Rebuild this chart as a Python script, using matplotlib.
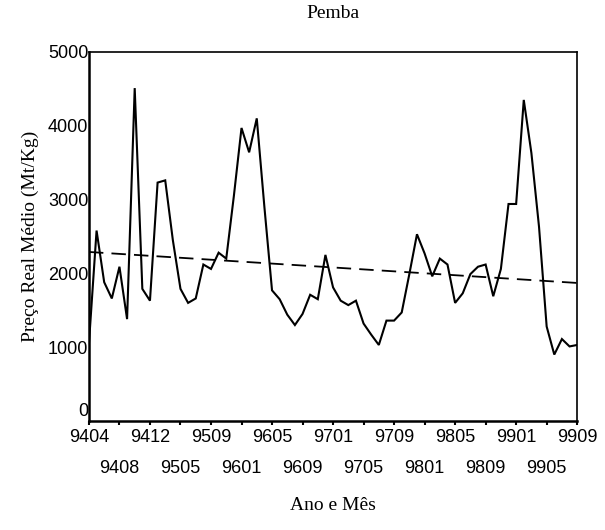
import matplotlib
matplotlib.use("Agg")
import matplotlib.pyplot as plt
import matplotlib.transforms as mtrans

# monthly real price, Pemba (Apr 1994 - Sep 1999)
preco = [1050, 2580, 1880, 1660, 2090, 1380, 4510, 1790, 1630, 3230,
         3260, 2450, 1790, 1600, 1660, 2120, 2060, 2280, 2200, 3050,
         3970, 3640, 4100, 2900, 1770, 1650, 1440, 1300, 1450, 1710,
         1650, 2250, 1810, 1630, 1570, 1630, 1320, 1170, 1030, 1360,
         1360, 1470, 1990, 2530, 2270, 1960, 2200, 2120, 1600, 1730,
         1990, 2090, 2120, 1690, 2060, 2940, 2940, 4350, 3630, 2630,
         1280, 900, 1110, 1010, 1030]
# trend line end values
tendencia = [2290, 1870]
tick_labels = ["9404", "9408", "9412", "9505", "9509", "9601", "9605", "9609",
               "9701", "9705", "9709", "9801", "9805", "9809", "9901", "9905", "9909"]

serifFont = "Liberation Serif"
sansFont = "Liberation Sans"

fig = plt.figure(figsize=(6.05, 5.3), dpi=100)
ax = fig.add_axes([0.147, 0.2057, 0.807, 0.6963])

xs = list(range(len(preco)))
ax.plot(xs, preco, color="black", lw=1.5, solid_joinstyle="miter")
ax.plot([xs[0], xs[-1]], tendencia, color="black", lw=1.3, dashes=(8, 4.5))

ax.set_xlim(0, len(preco) - 1)
ax.set_ylim(0, 5000)
ax.set_yticks([0, 1000, 2000, 3000, 4000, 5000])
ax.set_yticklabels(["0", "1000", "2000", "3000", "4000", "5000"], family=sansFont, fontsize=13)
ax.tick_params(axis="y", length=0, pad=0.5)
# the zero label sits a little above the corner
zero = ax.get_yticklabels()[0]
zero.set_transform(zero.get_transform() + mtrans.ScaledTranslation(0, 8 / 72, fig.dpi_scale_trans))

ticks = list(range(0, len(preco), 4))
ax.set_xticks(ticks)
ax.set_xticklabels(tick_labels, family=sansFont, fontsize=13)
ax.tick_params(axis="x", length=3, width=1.5, direction="out", pad=3)
for t in ax.xaxis.get_major_ticks()[1::2]:
    t.set_pad(25)

ax.spines["left"].set_linewidth(1.8)
ax.spines["bottom"].set_linewidth(1.8)
ax.spines["top"].set_linewidth(1.2)
ax.spines["right"].set_linewidth(1.2)

ax.text(0.5, 1.103, "Pemba", transform=ax.transAxes, ha="center", va="center",
        family=serifFont, fontsize=14)
ax.set_ylabel("Preço Real Médio (Mt/Kg)", family=serifFont, fontsize=14, va="center")
ax.yaxis.set_label_coords(-0.119, 0.5)
ax.set_xlabel("Ano e Mês", family=serifFont, fontsize=14, va="center")
ax.xaxis.set_label_coords(0.5, -0.23)

fig.savefig("out.png", dpi=100)
